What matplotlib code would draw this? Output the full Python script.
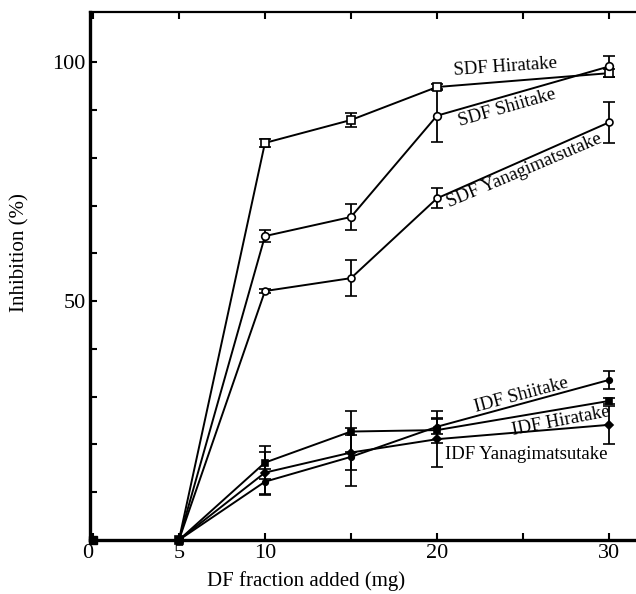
import matplotlib

matplotlib.use("Agg")
import matplotlib.pyplot as plt

plt.rcParams["font.family"] = ["Liberation Serif", "DejaVu Serif"]

# DF fraction added (mg)
dose = [0, 5, 10, 15, 20, 30]

# inhibition (%) and error bars
sdf_hiratake = [0, 0, 83.1, 87.9, 94.8, 97.7]
sdf_hiratake_err = [0, 0, 0.8, 1.4, 0.6, 0.9]
sdf_shiitake = [0, 0, 63.6, 67.6, 88.8, 99.1]
sdf_shiitake_err = [0, 0, 1.3, 2.8, 5.6, 2.1]
sdf_yanagi = [0, 0, 52.1, 54.8, 71.5, 87.4]
sdf_yanagi_err = [0, 0, 0.5, 3.8, 2.1, 4.3]

idf_hiratake = [0, 0, 16.2, 22.7, 23.0, 29.1]
idf_hiratake_err = [0, 0, 3.4, 4.2, 2.6, 0.7]
idf_shiitake = [0, 0, 12.2, 17.4, 23.7, 33.5]
idf_shiitake_err = [0, 0, 2.7, 6.1, 1.6, 1.8]
idf_yanagi = [0, 0, 14.1, 18.3, 21.1, 24.1]
idf_yanagi_err = [0, 0, 4.4, 3.7, 5.8, 4.0]

# curve labels: text, x, y, rotation
labels = [
    ("SDF Hiratake", 23.95, 99.0, 4),
    ("SDF Shiitake", 24.1, 90.4, 16),
    ("SDF Yanagimatsutake", 25.1, 77.4, 23),
    ("IDF Shiitake", 24.9, 30.4, 15),
    ("IDF Hiratake", 27.2, 24.8, 11),
    ("IDF Yanagimatsutake", 25.2, 17.8, 0),
]

fig = plt.figure(figsize=(6.36, 5.94), dpi=100)
ax = fig.add_axes([90 / 636, 54 / 594, 546 / 636, 528 / 594])

series = [
    (sdf_hiratake, sdf_hiratake_err, "s", "white", 6.0),
    (sdf_shiitake, sdf_shiitake_err, "o", "white", 5.5),
    (sdf_yanagi, sdf_yanagi_err, "o", "white", 5.0),
    (idf_hiratake, idf_hiratake_err, "s", "black", 5.0),
    (idf_shiitake, idf_shiitake_err, "o", "black", 4.0),
    (idf_yanagi, idf_yanagi_err, "D", "black", 3.8),
]
for y, e, m, fc, ms in series:
    ax.errorbar(dose[1:], y[1:], yerr=e[1:], color="black", lw=1.4, marker=m, ms=ms,
                mfc=fc, mec="black", mew=1.2, capsize=4.5, capthick=1.3, elinewidth=1.3,
                zorder=3, clip_on=False)
    ax.plot(dose[:2], y[:2], color="black", lw=1.4, zorder=3, clip_on=False)

# filled square at the origin
ax.plot([dose[0]], [0], marker="s", ms=6, color="black", clip_on=False, zorder=4)

for txt, x, y, rot in labels:
    ax.text(x, y, txt, rotation=rot, ha="center", va="center", fontsize=13.5,
            rotation_mode="anchor", zorder=5)

ax.set_xlim(-0.17, 31.57)
ax.set_ylim(0, 110.5)
ax.set_xticks([0, 5, 10, 15, 20, 25, 30])
ax.set_xticklabels(["0", "5", "10", "", "20", "", "30"])
ax.get_xticklabels()[0].set_ha("right")
ax.set_yticks(range(0, 101, 10))
ax.set_yticklabels(["" if v not in (50, 100) else str(v) for v in range(0, 101, 10)])
ax.tick_params(direction="in", length=5, width=1.5, labelsize=16, top=True, right=False,
               pad=3)

ax.spines["right"].set_visible(False)
ax.spines["left"].set_linewidth(2.4)
ax.spines["bottom"].set_linewidth(2.4)
ax.spines["top"].set_linewidth(1.6)

ax.set_xlabel("DF fraction added (mg)", fontsize=15)
ax.set_ylabel("Inhibition (%)", fontsize=15)
ax.xaxis.set_label_coords(0.396, -0.058)
ax.yaxis.set_label_coords(-0.11, 0.545)

fig.savefig("out.png", dpi=100, facecolor="white")
